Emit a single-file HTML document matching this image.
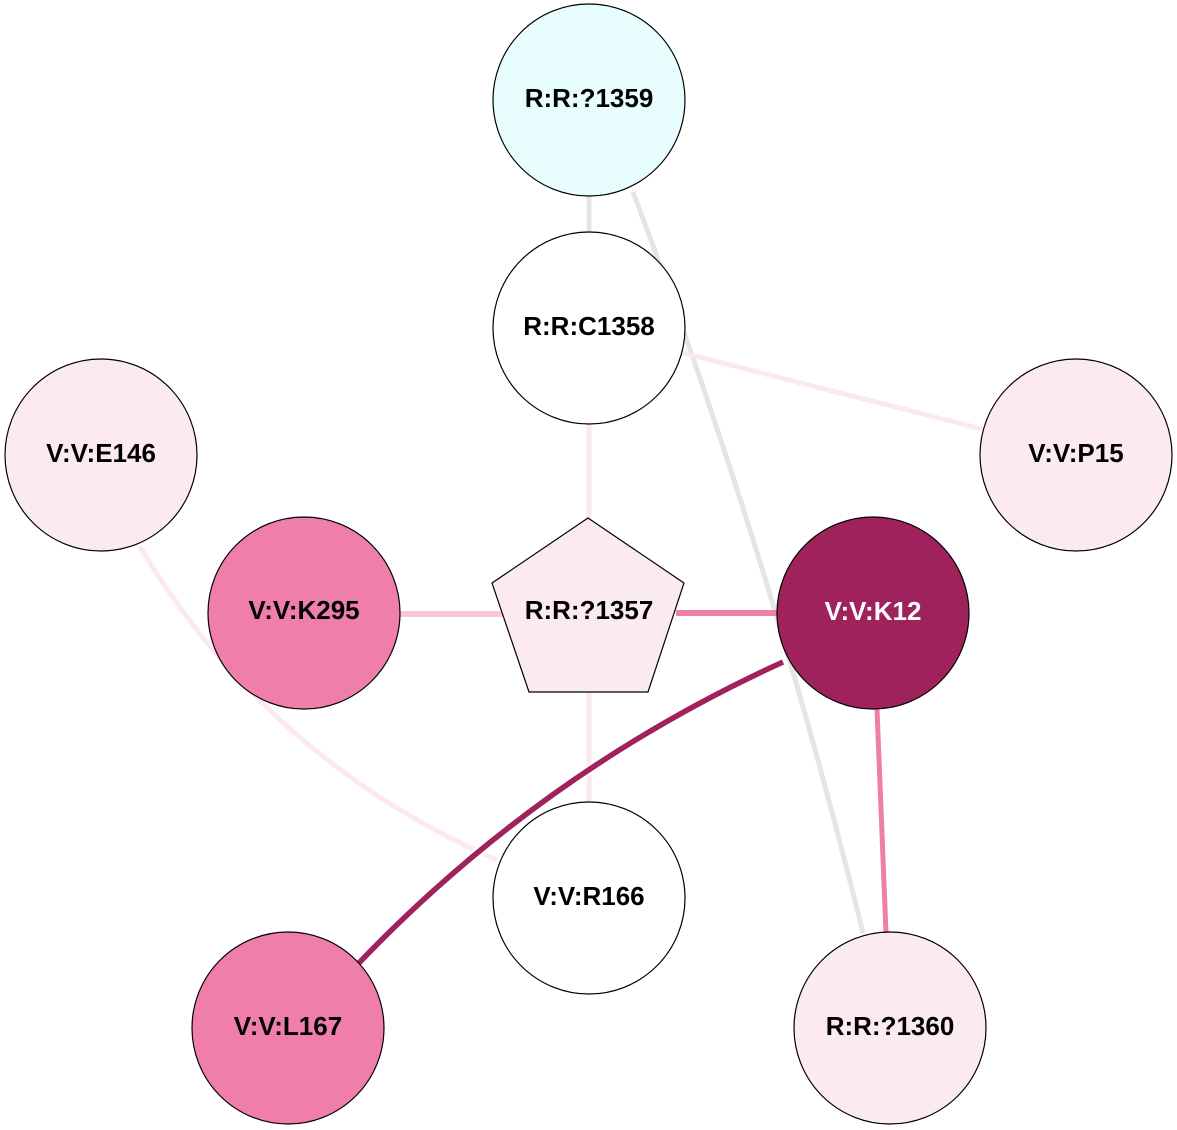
<!DOCTYPE html>
<html>
<head>
<meta charset="utf-8">
<style>
  html, body { margin: 0; padding: 0; background: #ffffff; }
  svg { display: block; }
  text { font-family: "Liberation Sans", Arial, sans-serif; font-weight: bold; font-size: 26px; text-anchor: middle; }
</style>
</head>
<body>
<svg width="1177" height="1130" viewBox="0 0 1177 1130" xmlns="http://www.w3.org/2000/svg">
  <rect width="1177" height="1130" fill="#ffffff"/>
  <!-- edges -->
  <line x1="589" y1="196" x2="589" y2="232" stroke="#e5e5e5" stroke-width="5"/>
  <path d="M 633 192 Q 770 555 863 933" fill="none" stroke="#e5e5e5" stroke-width="5"/>
  <line x1="683" y1="353" x2="982" y2="429" stroke="#fbe8f0" stroke-width="5"/>
  <line x1="589" y1="423" x2="589" y2="520" stroke="#fbe8f0" stroke-width="5"/>
  <line x1="589" y1="690" x2="589" y2="803" stroke="#fbe8f0" stroke-width="5"/>
  <line x1="399" y1="614" x2="505" y2="614" stroke="#f9c6dc" stroke-width="6"/>
  <line x1="676" y1="613" x2="778" y2="613" stroke="#f07eab" stroke-width="6"/>
  <path d="M 140 547 Q 268 760 497 860" fill="none" stroke="#fbe8f0" stroke-width="5"/>
  <path d="M 783 662 Q 541 772 357 965" fill="none" stroke="#ffffff" stroke-width="10"/>
  <path d="M 783 662 Q 541 772 357 965" fill="none" stroke="#a0225c" stroke-width="5.5"/>
  <line x1="877" y1="709" x2="886" y2="933" stroke="#f07eab" stroke-width="5"/>

  <!-- nodes -->
  <circle cx="589" cy="100" r="96" fill="#e8fefe" stroke="#000" stroke-width="1.2"/>
  <text x="589" y="107">R:R:?1359</text>

  <circle cx="589" cy="328" r="96" fill="#ffffff" stroke="#000" stroke-width="1.2"/>
  <text x="589" y="335">R:R:C1358</text>

  <circle cx="101" cy="455" r="96" fill="#fbeaf2" stroke="#000" stroke-width="1.2"/>
  <text x="101" y="462">V:V:E146</text>

  <circle cx="1076" cy="455" r="96" fill="#fbeaf2" stroke="#000" stroke-width="1.2"/>
  <text x="1076" y="462">V:V:P15</text>

  <circle cx="304" cy="613" r="96" fill="#f07eab" stroke="#000" stroke-width="1.2"/>
  <text x="304" y="619">V:V:K295</text>

  <polygon points="588,518 684,583 648,692 529,692 492,583" fill="#fbeaf2" stroke="#000" stroke-width="1.2"/>
  <text x="589" y="619">R:R:?1357</text>

  <circle cx="873" cy="613" r="96" fill="#a0225c" stroke="#000" stroke-width="1.2"/>
  <text x="873" y="620" fill="#ffffff">V:V:K12</text>

  <circle cx="589" cy="898" r="96" fill="#ffffff" stroke="#000" stroke-width="1.2"/>
  <text x="589" y="905">V:V:R166</text>

  <circle cx="288" cy="1028" r="96" fill="#f07eab" stroke="#000" stroke-width="1.2"/>
  <text x="288" y="1035">V:V:L167</text>

  <circle cx="890" cy="1028" r="96" fill="#fbeaf2" stroke="#000" stroke-width="1.2"/>
  <text x="890" y="1035">R:R:?1360</text>
</svg>
</body>
</html>
